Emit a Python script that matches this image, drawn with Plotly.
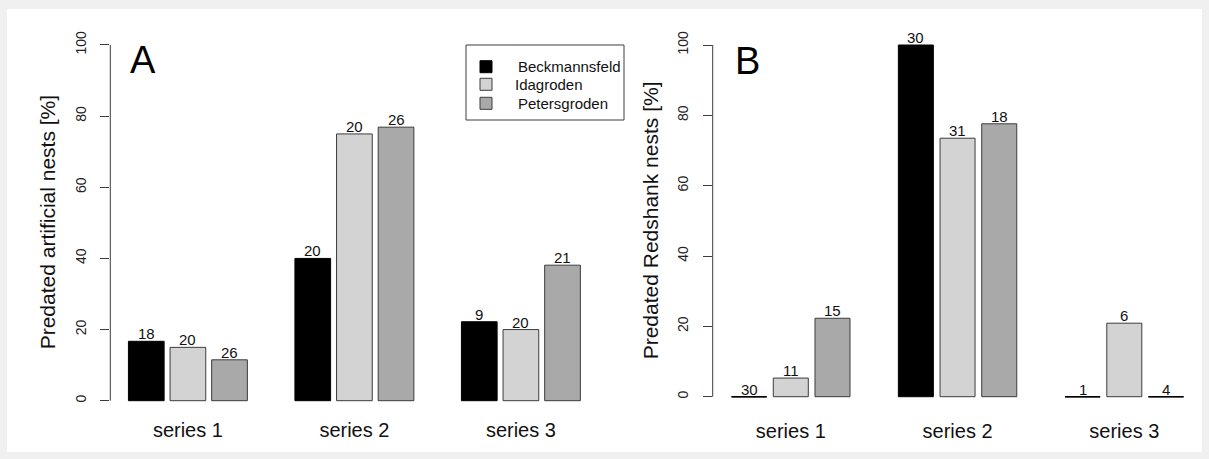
import plotly.graph_objects as go

W, H = 1209, 459

categories = ["series 1", "series 2", "series 3"]
sites = ["Beckmannsfeld", "Idagroden", "Petersgroden"]
site_colors = ["#000000", "#d3d3d3", "#a9a9a9"]

# Panel A: predated artificial nests [%] and number of nests per bar
art_beckmannsfeld = [16.7, 40.0, 22.2]
art_idagroden = [15.0, 75.0, 20.0]
art_petersgroden = [11.5, 76.9, 38.1]
art_n_beckmannsfeld = [18, 20, 9]
art_n_idagroden = [20, 20, 20]
art_n_petersgroden = [26, 26, 21]

# Panel B: predated Redshank nests [%] and number of nests per bar
red_beckmannsfeld = [0.0, 100.0, 0.0]
red_idagroden = [5.3, 73.5, 20.9]
red_petersgroden = [22.3, 77.6, 0.0]
red_n_beckmannsfeld = [30, 30, 1]
red_n_idagroden = [11, 31, 6]
red_n_petersgroden = [15, 18, 4]

y_ticks = [0, 20, 40, 60, 80, 100]

FONT = "Liberation Sans, Arial, sans-serif"
EDGE = "#3c3c3c"


def px_x(p):
    return p / W


def px_y(p):
    return 1 - p / H


fig = go.Figure()

panels = [
    dict(name="A", xa="x", ya="y",
         values=[art_beckmannsfeld, art_idagroden, art_petersgroden],
         counts=[art_n_beckmannsfeld, art_n_idagroden, art_n_petersgroden],
         axis_px=110.3, right_px=600, first_center_px=187.9, group_px=166.5,
         y0_px=400.7, y100_px=45.0, yr=(-4, 106), bar_w=0.2144,
         ylabel="Predated artificial nests [%]", ylabel_px=47.5,
         letter_px=(143.4, 60.0), cat_standoff=1),
    dict(name="B", xa="x2", ya="y2",
         values=[red_beckmannsfeld, red_idagroden, red_petersgroden],
         counts=[red_n_beckmannsfeld, red_n_idagroden, red_n_petersgroden],
         axis_px=712.7, right_px=1200, first_center_px=790.8, group_px=166.75,
         y0_px=396.7, y100_px=45.0, yr=(-4, 108), bar_w=0.21,
         ylabel="Predated Redshank nests [%]", ylabel_px=650.5,
         letter_px=(747.5, 60.5), cat_standoff=6),
]

BAR_STEP = 0.25
annotations = []
shapes = [
    # white page area inside the light grey frame
    dict(type="rect", xref="paper", yref="paper", x0=px_x(7), x1=px_x(1202),
         y0=px_y(452), y1=px_y(9), fillcolor="white", line_width=0, layer="below"),
]

for pi, p in enumerate(panels):
    suffix = "" if pi == 0 else "2"
    for si, site in enumerate(sites):
        vals = p["values"][si]
        xs = [g + (si - 1) * BAR_STEP for g in range(len(categories))]
        fig.add_trace(go.Bar(
            x=xs, y=vals, width=p["bar_w"], name=site, showlegend=False,
            marker=dict(color=site_colors[si], line=dict(color=EDGE if si else "#000", width=1)),
            xaxis=p["xa"], yaxis=p["ya"], hoverinfo="y",
        ))
        # zero-height bars are drawn as a flat outline
        lx, ly = [], []
        for x, v in zip(xs, vals):
            if v == 0:
                lx += [x - p["bar_w"] / 2, x + p["bar_w"] / 2, None]
                ly += [v, v, None]
        if lx:
            fig.add_trace(go.Scatter(
                x=lx, y=ly, mode="lines", line=dict(color="#000", width=1.6),
                showlegend=False, hoverinfo="skip", cliponaxis=False,
                xaxis=p["xa"], yaxis=p["ya"],
            ))
        for x, v, n in zip(xs, vals, p["counts"][si]):
            annotations.append(dict(
                x=x, y=v, xref=p["xa"], yref=p["ya"], text=str(n), showarrow=False,
                yanchor="bottom", xanchor="center", yshift=-3,
                font=dict(family=FONT, size=15, color="#111"),
            ))

    # axis geometry
    xmin = -(p["first_center_px"] - p["axis_px"]) / p["group_px"]
    xmax = (p["right_px"] - p["first_center_px"]) / p["group_px"]
    ppu = (p["y0_px"] - p["y100_px"]) / 100.0
    bottom_px = p["y0_px"] - p["yr"][0] * ppu
    top_px = p["y0_px"] - p["yr"][1] * ppu

    fig.layout["xaxis" + suffix] = dict(
        domain=[px_x(p["axis_px"]), px_x(p["right_px"])], range=[xmin, xmax],
        anchor="y" + suffix, tickvals=list(range(len(categories))), ticktext=categories,
        ticks="", showline=False, showgrid=False, zeroline=False,
        tickfont=dict(family=FONT, size=20, color="#111"),
        ticklabelstandoff=p["cat_standoff"],
    )
    fig.layout["yaxis" + suffix] = dict(
        domain=[px_y(bottom_px), px_y(top_px)], range=list(p["yr"]),
        anchor="x" + suffix, tickvals=y_ticks, ticks="outside", ticklen=9,
        tickcolor=EDGE, tickwidth=1, tickangle=-90, showline=False,
        showgrid=False, zeroline=False, ticklabelstandoff=9,
        tickfont=dict(family=FONT, size=14, color="#222"),
    )
    # y axis spine from 0 to 100
    shapes.append(dict(type="line", xref=p["xa"] + " domain", yref=p["ya"],
                       x0=0, x1=0, y0=y_ticks[0], y1=y_ticks[-1],
                       line=dict(color=EDGE, width=1)))
    # axis title
    annotations.append(dict(
        x=px_x(p["ylabel_px"]), y=px_y((p["y0_px"] + p["y100_px"]) / 2),
        xref="paper", yref="paper", text=p["ylabel"], textangle=-90, showarrow=False,
        xanchor="center", yanchor="middle", font=dict(family=FONT, size=21, color="#111"),
    ))
    # panel letter
    annotations.append(dict(
        x=px_x(p["letter_px"][0]), y=px_y(p["letter_px"][1]), xref="paper", yref="paper",
        text=p["name"], showarrow=False, xanchor="center", yanchor="middle",
        font=dict(family=FONT, size=38, color="#000"),
    ))

# legend box for panel A
shapes.append(dict(type="rect", xref="paper", yref="paper", x0=px_x(466), x1=px_x(624),
                   y0=px_y(120), y1=px_y(45), line=dict(color=EDGE, width=1),
                   fillcolor="white"))
legend_rows_px = [66.7, 84.3, 103.3]
legend_text_px = [516, 513.3, 516]
for si, site in enumerate(sites):
    cy = legend_rows_px[si]
    shapes.append(dict(type="rect", xref="paper", yref="paper", x0=px_x(480), x1=px_x(492),
                       y0=px_y(cy + 6), y1=px_y(cy - 6), fillcolor=site_colors[si],
                       line=dict(color=EDGE if si else "#000", width=1)))
    annotations.append(dict(
        x=px_x(legend_text_px[si]), y=px_y(cy), xref="paper", yref="paper", text=site,
        showarrow=False, xanchor="left", yanchor="middle",
        font=dict(family=FONT, size=15, color="#111"),
    ))

fig.update_layout(
    width=W, height=H, margin=dict(l=0, r=0, t=0, b=0),
    paper_bgcolor="#f0f0f0", plot_bgcolor="rgba(0,0,0,0)",
    barmode="overlay", showlegend=False,
    shapes=shapes, annotations=annotations,
    font=dict(family=FONT),
)

fig.write_html("out.html")
